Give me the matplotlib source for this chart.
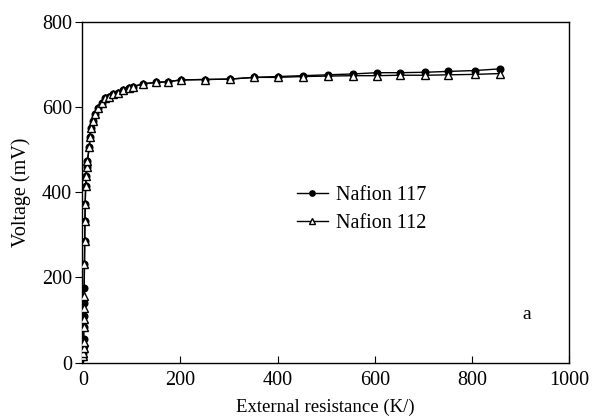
import matplotlib
matplotlib.use('Agg')
import matplotlib.pyplot as plt

plt.rcParams['font.family'] = ['Liberation Serif', 'DejaVu Serif']

# Nafion 112 (open triangles)
r_112 = [0.2, 0.4, 0.6, 0.8, 1.0, 1.2, 1.5, 1.8, 2.5, 3.0, 3.5, 4.0, 5.0,
         6, 7, 8.4, 12.5, 14, 15.4, 19.5, 24, 31, 38, 45, 53, 61, 72, 82, 94,
         102, 123, 150, 174, 201, 250, 302, 351, 400, 452, 503, 554, 605, 651,
         704, 751, 805, 858]
v_112 = [16, 23, 35, 49, 84, 103, 129, 157, 232, 286, 333, 373, 415,
         438, 459, 473, 506, 530, 551, 567, 584, 598, 609, 621, 624, 630, 633,
         640, 645, 647, 654, 657, 659, 663, 664, 665, 669, 669, 671, 672, 673,
         673, 674, 674, 675, 676, 678]

# Nafion 117 (filled circles)
r_117 = [0.2, 0.4, 0.6, 0.8, 1.0, 1.2, 1.5, 1.8, 2.5, 3.0, 3.5, 4.0, 5.0,
         6, 7, 8.4, 12.5, 14, 15.4, 19.5, 24, 31, 38, 45, 53, 61, 72, 82, 94,
         102, 123, 150, 174, 201, 250, 302, 351, 400, 452, 503, 554, 605, 651,
         704, 751, 805, 858]
v_117 = [14, 23, 40, 55, 84, 110, 140, 175, 232, 286, 333, 373, 415,
         438, 459, 473, 506, 530, 551, 567, 584, 598, 609, 621, 624, 630, 633,
         640, 645, 647, 654, 657, 659, 663, 664, 665, 669, 671, 673, 675, 677,
         680, 680, 681, 683, 685, 689]

fig = plt.figure(figsize=(5.94, 4.2), dpi=100)
ax = fig.add_axes([0.1377, 0.1364, 0.8207, 0.8124])

ax.plot(r_117, v_117, color='black', lw=1.0, marker='o', ms=4.8,
        mfc='black', mec='black', label='Nafion 117', zorder=2)
ax.plot(r_112, v_112, color='black', lw=1.0, marker='^', ms=5.8,
        mfc='white', mec='black', mew=1.0, label='Nafion 112', zorder=3)

ax.set_xlim(-3, 1000)
ax.set_ylim(0, 800)
ax.set_xticks([0, 200, 400, 600, 800, 1000])
ax.set_yticks([0, 200, 400, 600, 800])
ax.tick_params(axis='x', direction='in', length=5, labelsize=14.5, pad=6)
ax.tick_params(axis='y', direction='out', length=5, labelsize=14.5, pad=2)
for s in ax.spines.values():
    s.set_linewidth(1.0)

ax.set_xlabel('External resistance (K/)', fontsize=13.5, labelpad=6)
ax.set_ylabel('Voltage (mV)', fontsize=14.5, labelpad=8)

ax.text(913, 112, 'a', fontsize=14, ha='center', va='center')

ax.legend(loc='upper left', bbox_to_anchor=(0.405, 0.57), frameon=False,
          fontsize=14.5, handlelength=1.5, handletextpad=0.4, labelspacing=0.4,
          markerscale=0.8)

fig.savefig('out.png', dpi=100)
